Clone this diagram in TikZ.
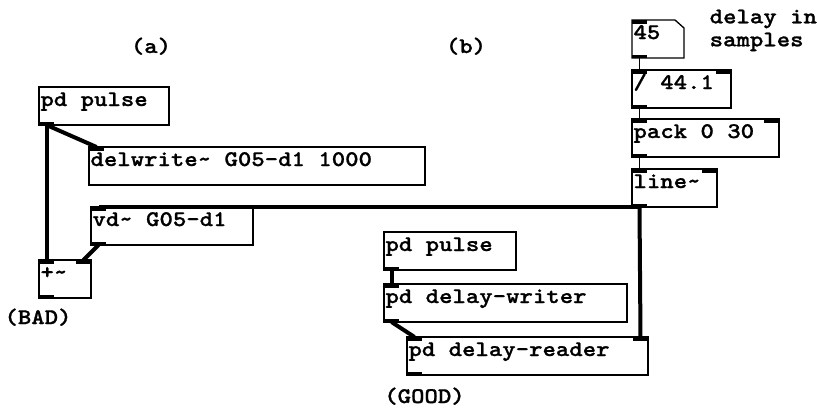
\documentclass[tikz,border=0pt]{standalone}
\usepackage{fontspec}
\newfontfamily\pdmono{lmmonolt10-bold.otf}[FakeStretch=1.145, FakeBold=1]
\newcommand{\patchfont}{\pdmono\fontsize{22.3}{23}\selectfont
    \spaceskip=13.4pt \xspaceskip=13.4pt\relax}
% box text, left aligned in a given width
\newcommand{\boxtext}[2]{\hbox to #1pt{#2\hss}}
% inlets and outlets of a box
\newcommand{\pdout}[1]{\fill (#1.south west) rectangle ++(15,-3.5);}
\newcommand{\pdinl}[1]{\fill (#1.north west) rectangle ++(15,3.5);}
\newcommand{\pdinr}[1]{\fill (#1.north east) rectangle ++(-15,3.5);}

\begin{document}
\begin{tikzpicture}[x=1pt, y=-1pt,
    every node/.style={font=\patchfont},
    pdbox/.style={draw, line width=1.3pt, anchor=north west, outer sep=0pt,
        inner xsep=1.5pt, inner ysep=0pt, text height=19pt, text depth=19pt},
    caption/.style={anchor=base},
    sig/.style={line width=4pt},
    ctl/.style={line width=1.3pt}]
    \useasboundingbox (0,0) rectangle (817,408);
    % (a)
    \node[caption] (capA) at (151,53) {(a)};
    \node[pdbox] (pulseA) at (39,87) {\boxtext{127}{pd pulse}};
    \node[pdbox] (delwrite) at (89,147) {\boxtext{333}{delwrite\textasciitilde{} G05-d1 1000}};
    \node[pdbox] (vd) at (91,207) {\boxtext{159}{vd\textasciitilde{} G05-d1}};
    \node[pdbox] (plus) at (39,260) {\boxtext{49}{+\textasciitilde}};
    \node[caption] (capBad) at (38,324) {(BAD)};
    % (b)
    \node[caption] (capB) at (466,53) {(b)};
    \node[pdbox] (pulseB) at (384,232) {\boxtext{129}{pd pulse}};
    \node[pdbox] (writer) at (384,284) {\boxtext{240}{pd delay-writer}};
    \node[pdbox] (reader) at (407,337) {\boxtext{238}{pd delay-reader}};
    \node[caption] (capGood) at (424.5,403) {(GOOD)};
    % delay time
    \node[pdbox, draw=none] (num) at (632,20) {\boxtext{49}{45}};
    \draw[line width=1.3pt] (num.north west) -- ([xshift=-9pt]num.north east)
        -- ([yshift=-8pt]num.north east) -- (num.south east) -- (num.south west) -- cycle;
    \node[anchor=north west, align=left, inner sep=0pt] (note) at (709.5,9.5) {delay in\\samples};
    \node[pdbox] (div) at (632,70) {\boxtext{96}{/ 44.1}};
    \node[pdbox] (pack) at (632,119) {\boxtext{144}{pack 0 30}};
    \node[pdbox] (line) at (632,169) {\boxtext{82}{line\textasciitilde}};
    % inlets, outlets
    \pdout{pulseA} \pdinl{delwrite}
    \pdinl{vd} \pdout{vd}
    \pdinl{plus} \pdinr{plus} \pdout{plus}
    \pdout{pulseB} \pdinl{writer} \pdout{writer}
    \pdinl{reader} \pdinr{reader} \pdout{reader}
    \pdinl{num} \pdout{num}
    \pdinl{div} \pdinr{div} \pdout{div}
    \pdinl{pack} \pdinr{pack} \pdout{pack}
    \pdinl{line} \pdinr{line} \pdout{line}
    % connections
    \draw[sig] ([xshift=7.5pt]pulseA.south west) -- ([xshift=7.5pt]plus.north west);
    \draw[sig] ([xshift=7.5pt]pulseA.south west) -- ([xshift=7.5pt]delwrite.north west);
    \draw[sig] ([xshift=7.5pt]vd.south west) -- ([xshift=-7.5pt]plus.north east);
    \draw[sig] ([xshift=7.5pt]line.south west) -- ([xshift=7.5pt]vd.north west);
    \draw[sig] ([xshift=7.5pt]line.south west) -- ([xshift=-7.5pt]reader.north east);
    \draw[sig] ([xshift=7.5pt]pulseB.south west) -- ([xshift=7.5pt]writer.north west);
    \draw[sig] ([xshift=7.5pt]writer.south west) -- ([xshift=7.5pt]reader.north west);
    \draw[ctl] ([xshift=7.5pt]num.south west) -- ([xshift=7.5pt]div.north west);
    \draw[ctl] ([xshift=7.5pt]div.south west) -- ([xshift=7.5pt]pack.north west);
    \draw[ctl] ([xshift=7.5pt]pack.south west) -- ([xshift=7.5pt]line.north west);
\end{tikzpicture}
\end{document}
